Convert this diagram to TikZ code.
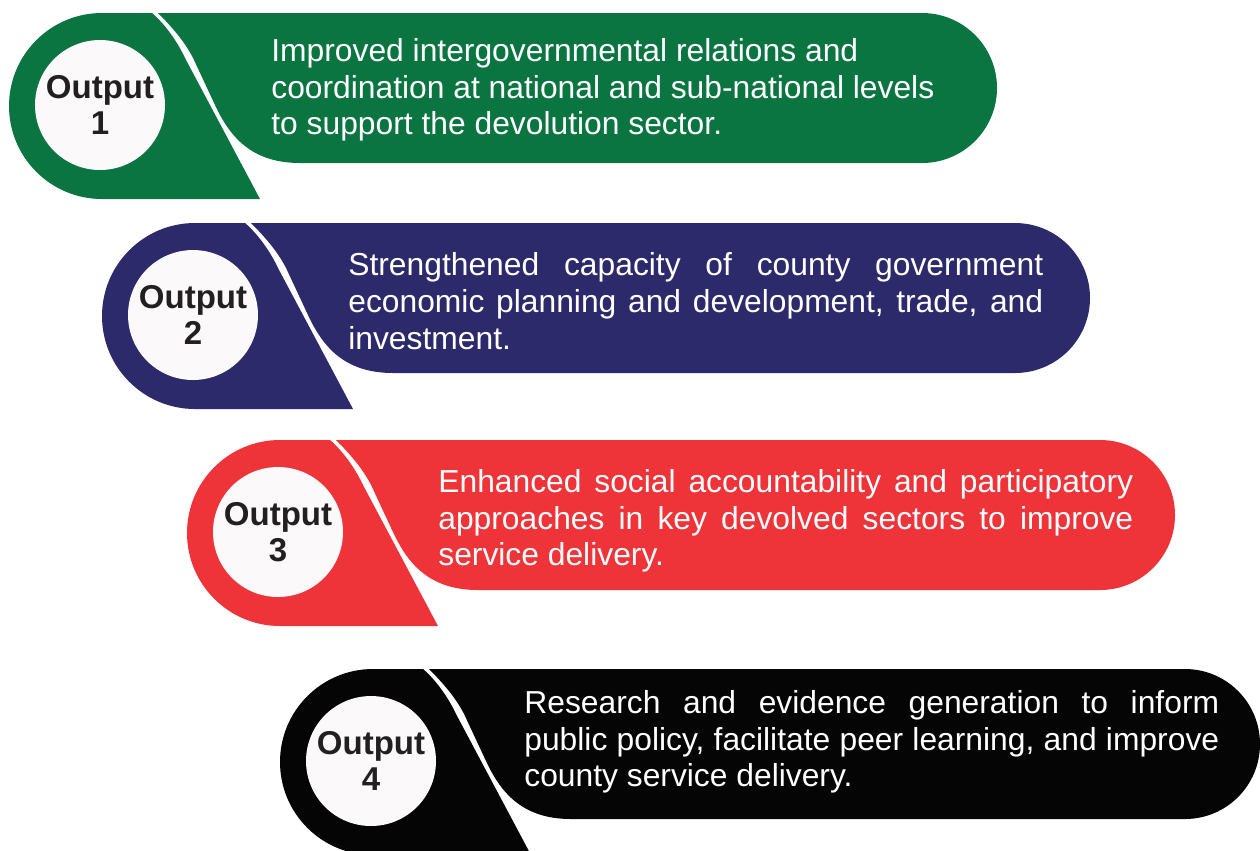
\documentclass[tikz,border=0pt]{standalone}
\usepackage{fontspec}
\setmainfont{Liberation Sans}
\usepackage{tikz}

\definecolor{pingreen}{HTML}{0B7542}
\definecolor{pinnavy}{HTML}{2C2A6B}
\definecolor{pinred}{HTML}{EE3339}
\definecolor{pinblack}{HTML}{050505}
\definecolor{pinwhite}{HTML}{FBF9FA}
\definecolor{pintext}{HTML}{231F20}

% one pin: #1 centre of the round head, #2 colour, #3 x of the pill's end arc
\newcommand{\pinshape}[3]{%
	\begin{scope}[shift={#1}]
		\fill[#2] (2,94) -- (160,94) -- (85,-47) .. controls (78,-62) and (66,-80) .. (52,-92)
			-- (2,-92) arc[start angle=270, end angle=90, radius=93] -- cycle;
		\fill[#2] (58,-92) -- (#3,-92) arc[start angle=270, end angle=450, radius=75] -- (200,58)
			.. controls (150,58) and (129,30) .. (115,0) -- (94,-45)
			.. controls (86,-62) and (72,-78) .. (58,-92) -- cycle;
	\end{scope}}

\tikzset{
	pin label/.style={circle, fill=pinwhite, minimum size=2.6cm, inner sep=0pt, align=center,
		text=pintext, font=\bfseries\fontsize{18.8}{20.8}\selectfont},
	pill text/.style={anchor=west, inner sep=0pt, text=white,
		font=\fontsize{18.1}{20.9}\selectfont},
	pill block/.style={pill text, text width=13.9cm, align=justify}
}

\begin{document}
\begin{tikzpicture}[x=0.02cm, y=-0.02cm]
	\useasboundingbox (0,0) rectangle (1260,850);

	\pinshape{(100,105)}{pingreen}{822}
	\pinshape{(193,315)}{pinnavy}{822}
	\pinshape{(278,532)}{pinred}{822}
	\pinshape{(371,761)}{pinblack}{814}

	\node[pin label] (out1) at (100,105) {Output\\1};
	\node[pin label] (out2) at (193,315) {Output\\2};
	\node[pin label] (out3) at (278,532) {Output\\3};
	\node[pin label] (out4) at (371,761) {Output\\4};

	\node[pill text, align=left] (txt1) at (271,90) {Improved intergovernmental relations and\\
		coordination at national and sub-national levels\\to support the devolution sector.};
	\node[pill block] (txt2) at (348,301) {Strengthened capacity of county government\linebreak
		economic planning and development, trade, and\linebreak investment.};
	\node[pill block] (txt3) at (438,521) {Enhanced social accountability and participatory\linebreak
		approaches in key devolved sectors to improve\linebreak service delivery.};
	\node[pill block] (txt4) at (524,742) {Research and evidence generation to inform\linebreak
		public policy, facilitate peer learning, and improve\linebreak county service delivery.};
\end{tikzpicture}
\end{document}
